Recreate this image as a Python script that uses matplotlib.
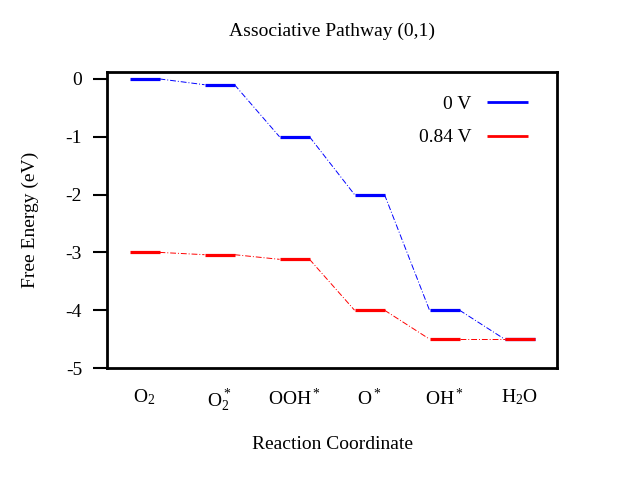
import numpy as np
import matplotlib
matplotlib.use('Agg')
import matplotlib.pyplot as plt

plt.rcParams['font.family'] = ['Liberation Serif', 'DejaVu Serif']
plt.rcParams['mathtext.fontset'] = 'custom'
plt.rcParams['mathtext.rm'] = 'Liberation Serif'
plt.rcParams['mathtext.it'] = 'Liberation Serif'

# data
species = [r'O$_2$', r'O$_2^*$', r'OOH$^*$', r'O$^*$', r'OH$^*$', r'H$_2$O']
energy_0V = [0.0, -0.1, -1.0, -2.0, -4.0, -4.5]
energy_084V = [-3.0, -3.04, -3.12, -4.0, -4.5, -4.5]
yticks = [0, -1, -2, -3, -4, -5]

x = np.arange(1, len(species) + 1)
half = 0.2
fs = 14

fig = plt.figure(figsize=(6.2, 4.8), dpi=100)
ax = fig.add_axes([0.1726, 0.2333, 0.7258, 0.6167])

def draw_pathway(vals, color, label):
    for i in range(len(vals)):
        ax.plot([x[i] - half, x[i] + half], [vals[i], vals[i]], color=color, lw=2.3,
                solid_capstyle='butt', label=label if i == 0 else None)
        if i < len(vals) - 1:
            ax.plot([x[i] + half, x[i + 1] - half], [vals[i], vals[i + 1]], color=color,
                    lw=0.7, ls=(0, (6, 2, 1, 2)))

draw_pathway(energy_0V, '#0000ff', '0 V')
draw_pathway(energy_084V, '#ff0000', '0.84 V')

ax.set_xlim(0.5, 6.5)
ax.set_ylim(-5, 0.12)
ax.set_xticks(x)
ax.set_xticklabels(species, fontsize=fs)
ax.set_yticks(yticks)
ax.set_yticklabels([str(v) for v in yticks], fontsize=fs)
ax.tick_params(axis='x', length=0, pad=14)
ax.tick_params(axis='y', direction='out', length=10, width=1.5, pad=8, right=False)
for s in ax.spines.values():
    s.set_linewidth(2)

ax.set_title('Associative Pathway (0,1)', fontsize=fs, pad=26)
ax.set_xlabel('Reaction Coordinate', fontsize=fs, labelpad=16)
ax.set_ylabel('Free Energy (eV)', fontsize=fs, labelpad=19)

leg = ax.legend(loc='upper right', bbox_to_anchor=(0.936, 0.92), frameon=False,
                fontsize=fs, markerfirst=False, handlelength=2.1, labelspacing=0.8,
                borderaxespad=0, borderpad=0, handletextpad=0.8)
for h in leg.get_lines():
    h.set_linewidth(2)

fig.savefig('out.png', dpi=100)
